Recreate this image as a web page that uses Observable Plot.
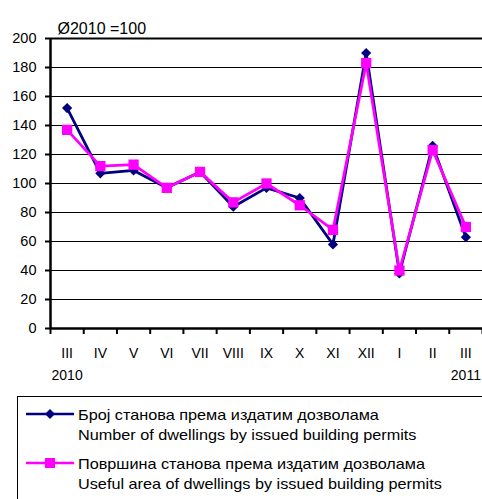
<!DOCTYPE html>
<html><head><meta charset="utf-8">
<script src="https://cdn.jsdelivr.net/npm/d3@7"></script>
<script src="https://cdn.jsdelivr.net/npm/@observablehq/plot@0.6"></script>
<style>
body{margin:0;background:#fff;font-family:"Liberation Sans",Arial,sans-serif;color:#000;}
#wrap{position:relative;width:482px;height:499px;overflow:hidden;}
#chart svg{display:block;}
.legend{position:absolute;left:17px;top:396px;width:480px;height:120px;border:1.5px solid #000;box-sizing:border-box;}
.entry{position:absolute;left:6px;}
.entry svg{position:absolute;left:0;top:0;}
.entry .txt{position:absolute;left:54px;top:1px;font-size:14.5px;line-height:20px;white-space:nowrap;transform:scaleX(1.12);transform-origin:0 0;}
</style></head>
<body><div id="wrap"><div id="chart"></div>
<div class="legend">
 <div class="entry" style="top:7px"><svg width="58" height="20"><line x1="2" y1="10" x2="50" y2="10" stroke="#000080" stroke-width="2.5"/><path d="M26,5 L31,10 L26,15 L21,10 Z" fill="#000080"/></svg><div class="txt" id="l1"></div></div>
 <div class="entry" style="top:56px"><svg width="58" height="20"><line x1="2" y1="10" x2="50" y2="10" stroke="#FF00FF" stroke-width="2.5"/><rect x="21" y="5" width="10" height="10" fill="#FF00FF"/></svg><div class="txt" id="l2"></div></div>
</div></div>
<script>
const months = ["III","IV","V","VI","VII","VIII","IX","X","XI","XII","I","II","III"];
const years = [{i:0, t:"2010"},{i:12, t:"2011"}];
const dwellings = [152,107,109,97,108,84,97,90,58,190,38,126,63];
const area = [137,112,113,97,108,87,100,85,68,183,40,123,70];
const yTicks = [0,20,40,60,80,100,120,140,160,180,200];
const subtitle = "Ø2010 =100";
const series1 = ["Број станова према издатим дозволама","Number of dwellings by issued building permits"];
const series2 = ["Површина станова према издатим дозволама","Useful area of dwellings by issued building permits"];

const boundaries = d3.range(months.length + 1).map(i => i - 0.5);

const chart = Plot.plot({
  width: 482, height: 390,
  marginLeft: 50, marginRight: 0, marginTop: 38, marginBottom: 62,
  style: {fontFamily: "'Liberation Sans', Arial, sans-serif", color: "#000", background: "#fff"},
  x: {type: "linear", domain: [-0.5, months.length - 0.5], axis: null, label: null},
  y: {domain: [0, 200], axis: null, label: null},
  marks: [
    Plot.ruleY(yTicks, {stroke: "#000", strokeWidth: 1}),
    Plot.ruleY([200], {stroke: "#000", strokeWidth: 2}),
    Plot.axisY({ticks: yTicks, tickSize: 5, tickPadding: 9, fontSize: 14.5, strokeWidth: 2, label: null}),
    Plot.axisX({ticks: boundaries, tickFormat: () => "", tickSize: 6, strokeWidth: 2, label: null}),
    Plot.text(months, {x: (d, i) => i, y: () => 0, dy: 25, fontSize: 14}),
    Plot.text(years, {x: "i", y: () => 0, text: "t", dy: 47, fontSize: 14}),
    Plot.ruleX([-0.5], {stroke: "#000", strokeWidth: 2.5}),
    Plot.ruleY([0], {stroke: "#000", strokeWidth: 2.5}),
    Plot.line(dwellings, {x: (d, i) => i, y: d => d, stroke: "#000080", strokeWidth: 2.8}),
    Plot.dot(dwellings, {x: (d, i) => i, y: d => d, symbol: "diamond2", r: 4.6, fill: "#000080"}),
    Plot.line(area, {x: (d, i) => i, y: d => d, stroke: "#FF00FF", strokeWidth: 2.8}),
    Plot.dot(area, {x: (d, i) => i, y: d => d, symbol: "square", r: 5.8, fill: "#FF00FF"}),
    Plot.text([subtitle], {frameAnchor: "top-left", textAnchor: "start", dx: 7, dy: -16, fontSize: 16})
  ]
});
document.getElementById("chart").appendChild(chart);
document.getElementById("l1").innerHTML = series1.join("<br>");
document.getElementById("l2").innerHTML = series2.join("<br>");
</script></body></html>
